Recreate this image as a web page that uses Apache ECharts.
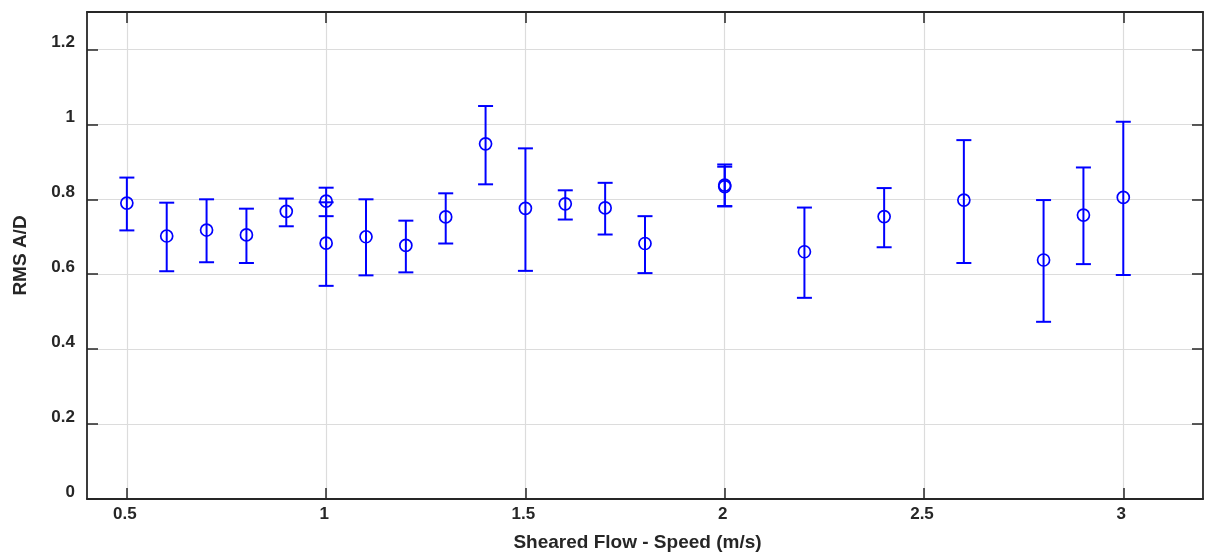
<!DOCTYPE html>
<html>
<head>
<meta charset="utf-8">
<script src="https://cdn.jsdelivr.net/npm/echarts@6/dist/echarts.min.js"></script>
<style>html,body{margin:0;padding:0;background:#fff;}#c{width:1217px;height:557px;}</style>
</head>
<body>
<div id="c"></div>
<script>
var speeds = [0.5, 0.6, 0.7, 0.8, 0.9, 1.0, 1.0, 1.1, 1.2, 1.3, 1.4, 1.5, 1.6, 1.7, 1.8, 2.0, 2.0, 2.2, 2.4, 2.6, 2.8, 2.9, 3.0];
var rmsValues = [0.790, 0.702, 0.718, 0.705, 0.768, 0.795, 0.683, 0.700, 0.677, 0.753, 0.948, 0.776, 0.788, 0.777, 0.682, 0.838, 0.834, 0.660, 0.754, 0.798, 0.638, 0.758, 0.805];
var lowerValues = [0.717, 0.608, 0.632, 0.630, 0.728, 0.755, 0.569, 0.597, 0.605, 0.682, 0.840, 0.609, 0.746, 0.706, 0.603, 0.781, 0.782, 0.537, 0.672, 0.630, 0.473, 0.627, 0.598];
var upperValues = [0.858, 0.791, 0.800, 0.775, 0.802, 0.831, 0.792, 0.800, 0.743, 0.816, 1.049, 0.936, 0.824, 0.844, 0.755, 0.893, 0.887, 0.778, 0.830, 0.958, 0.798, 0.885, 1.007];
var xTickValues = [0.5, 1, 1.5, 2, 2.5, 3];
var yTickValues = [0, 0.2, 0.4, 0.6, 0.8, 1, 1.2];

var axisColor = '#262626';
var gridColor = '#dcdcdc';
var blue = '#0000ff';
var fontFam = '"Liberation Sans", Arial, sans-serif';

var errData = speeds.map(function (x, i) { return [x, lowerValues[i], upperValues[i]]; });
var ptData = speeds.map(function (x, i) { return [x, rmsValues[i]]; });

var chart = echarts.init(document.getElementById('c'), null, {renderer: 'canvas'});
var baseX = {
  type: 'value', min: 0.4, max: 3.2,
  axisLine: {show: true, onZero: false, lineStyle: {color: axisColor, width: 1.8}},
  axisTick: {show: true, inside: true, length: 11, customValues: xTickValues, lineStyle: {color: axisColor, width: 1.5}},
  axisLabel: {show: true, customValues: xTickValues, margin: 7, padding: [0, 4, 0, 0], color: axisColor, fontFamily: fontFam, fontWeight: 'bold', fontSize: 17},
  splitLine: {show: true, lineStyle: {color: gridColor, width: 1.2}}
};
var baseY = {
  type: 'value', min: 0, max: 1.3,
  axisLine: {show: true, onZero: false, lineStyle: {color: axisColor, width: 1.8}},
  axisTick: {show: true, inside: true, length: 11, customValues: yTickValues, lineStyle: {color: axisColor, width: 1.5}},
  axisLabel: {show: true, customValues: yTickValues, margin: 12, verticalAlign: 'bottom', lineHeight: 14, color: axisColor, fontFamily: fontFam, fontWeight: 'bold', fontSize: 17},
  splitLine: {show: true, lineStyle: {color: gridColor, width: 1.2}}
};
function clone(o){ return JSON.parse(JSON.stringify(o)); }
var xBottom = clone(baseX);
xBottom.position = 'bottom';
xBottom.name = 'Sheared Flow - Speed (m/s)';
xBottom.nameLocation = 'middle';
xBottom.nameGap = 34;
xBottom.nameTextStyle = {color: axisColor, fontFamily: fontFam, fontWeight: 'bold', fontSize: 19, padding: [0, 15, 0, 0]};
var xTop = clone(baseX);
xTop.position = 'top';
xTop.axisLabel.show = false;
xTop.splitLine.show = false;
var yLeft = clone(baseY);
yLeft.position = 'left';
yLeft.name = 'RMS A/D';
yLeft.nameLocation = 'middle';
yLeft.nameGap = 57;
yLeft.nameTextStyle = {color: axisColor, fontFamily: fontFam, fontWeight: 'bold', fontSize: 19};
var yRight = clone(baseY);
yRight.position = 'right';
yRight.axisLabel.show = false;
yRight.splitLine.show = false;

chart.setOption({
  animation: false,
  backgroundColor: '#ffffff',
  grid: {left: 87, right: 14, top: 12, bottom: 56, containLabel: false},
  xAxis: [xBottom, xTop],
  yAxis: [yLeft, yRight],
  series: [
    {
      type: 'custom',
      xAxisIndex: 0, yAxisIndex: 0,
      data: errData,
      renderItem: function (params, api) {
        var x = api.value(0);
        var lo = api.coord([x, api.value(1)]);
        var hi = api.coord([x, api.value(2)]);
        var hw = 7.5;
        var st = {stroke: blue, lineWidth: 2, fill: null};
        return {
          type: 'group',
          children: [
            {type: 'line', shape: {x1: lo[0], y1: lo[1], x2: hi[0], y2: hi[1]}, style: st},
            {type: 'line', shape: {x1: lo[0] - hw, y1: lo[1], x2: lo[0] + hw, y2: lo[1]}, style: st},
            {type: 'line', shape: {x1: hi[0] - hw, y1: hi[1], x2: hi[0] + hw, y2: hi[1]}, style: st}
          ]
        };
      },
      z: 2
    },
    {
      type: 'scatter',
      xAxisIndex: 0, yAxisIndex: 0,
      data: ptData,
      symbol: 'circle',
      symbolSize: 12,
      itemStyle: {color: 'rgba(255,255,255,0)', borderColor: blue, borderWidth: 1.7, opacity: 1},
      z: 3
    }
  ]
});
</script>
</body>
</html>
